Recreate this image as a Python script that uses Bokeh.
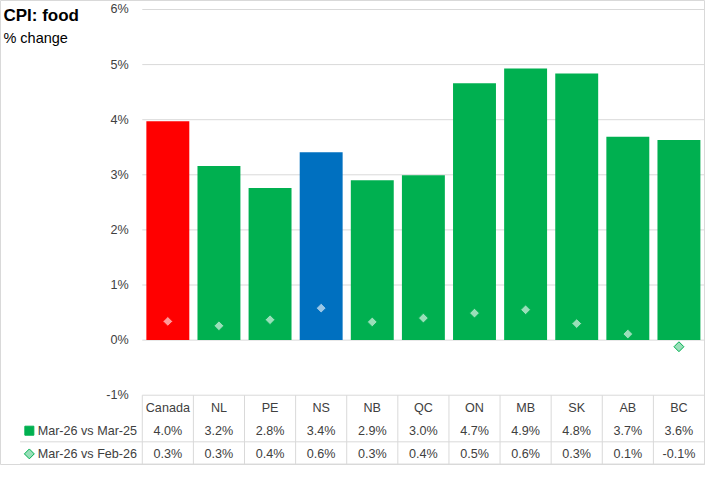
import math
from bokeh.plotting import figure
from bokeh.models import Range1d, ColumnDataSource
from bokeh.embed import file_html
from bokeh.resources import INLINE
from bokeh.core.properties import value

# ---------------- data ----------------
categories = ["Canada", "NL", "PE", "NS", "NB", "QC", "ON", "MB", "SK", "AB", "BC"]
yoy = [3.97, 3.16, 2.76, 3.41, 2.90, 2.99, 4.66, 4.93, 4.84, 3.69, 3.63]
mom = [0.34, 0.26, 0.37, 0.58, 0.33, 0.40, 0.49, 0.55, 0.30, 0.11, -0.12]
yoy_labels = ["4.0%", "3.2%", "2.8%", "3.4%", "2.9%", "3.0%", "4.7%", "4.9%", "4.8%", "3.7%", "3.6%"]
mom_labels = ["0.3%", "0.3%", "0.4%", "0.6%", "0.3%", "0.4%", "0.5%", "0.6%", "0.3%", "0.1%", "-0.1%"]
y_ticks = [-1, 0, 1, 2, 3, 4, 5, 6]
y_tick_labels = ["-1%", "0%", "1%", "2%", "3%", "4%", "5%", "6%"]
series_names = ["Mar-26 vs Mar-25", "Mar-26 vs Feb-26"]
title_text = "CPI: food"
subtitle_text = "% change"

# ---------------- styles / layout ----------------
GREEN = "#00B050"
RED = "#FF0000"
BLUE = "#0070C0"
GRID = "#d9d9d9"
TXT = "#404040"
FONT = "Liberation Sans"
FS = "12.6px"
highlight = {"Canada": RED, "NS": BLUE}

W, H = 705, 465
# reference-pixel -> data coordinate helpers (layout only)
REF_X0, REF_CW = 145.0, 52.27
REF_Y0, REF_U = 351.3, 57.0


def rx(px):
    return (px - (REF_X0 + REF_CW / 2)) / REF_CW


def ry(py):
    return (REF_Y0 - py) / REF_U


def blend_white(hex_color, t):
    h = hex_color.lstrip("#")
    r, g, b = (int(h[i:i + 2], 16) for i in (0, 2, 4))
    r, g, b = (round(c + (255 - c) * t) for c in (r, g, b))
    return "#%02x%02x%02x" % (r, g, b)


n = len(categories)
idx = list(range(n))
bar_colors = [highlight.get(c, GREEN) for c in categories]
marker_fill = [blend_white(c, 0.6) for c in bar_colors]

p = figure(width=W, height=H, output_backend="svg", toolbar_location=None,
           x_range=Range1d(rx(0), rx(721)), y_range=Range1d(ry(481), ry(0)),
           x_axis_location=None, y_axis_location=None,
           min_border=0, min_border_left=0, min_border_right=0,
           min_border_top=0, min_border_bottom=0)
p.xgrid.visible = False
p.ygrid.visible = False
p.outline_line_color = GRID
p.outline_line_width = 1
p.background_fill_color = "white"
p.border_fill_color = "white"

x_left = rx(REF_X0)
x_right = rx(721)

# gridlines
p.segment(x0=[x_left] * len(y_ticks), x1=[x_right] * len(y_ticks), y0=y_ticks, y1=y_ticks,
          line_color=GRID, line_width=1)

# y tick labels
p.text(x=[rx(131)] * len(y_ticks), y=y_ticks, text=y_tick_labels,
       text_font=value(FONT), text_font_size=value(FS), text_color=TXT,
       text_align="right", text_baseline="middle")

# bars
src = ColumnDataSource(dict(x=idx, top=yoy, color=bar_colors, mom=mom, mfill=marker_fill))
p.vbar(x="x", top="top", bottom=0, width=0.84, fill_color="color", line_color=None, source=src)

# markers (diamonds)
p.scatter(x="x", y="mom", marker="square", angle=math.pi / 4, size=7,
          fill_color="mfill", line_color="color", line_width=1, source=src)

# data table
row_cat = ry(422)
row_1 = ry(445)
row_2 = ry(469)
sep_y = ry(456.5)
bot_y = ry(479.5)
table_left = rx(20)

col_edges = [i - 0.5 for i in range(n + 1)]
p.segment(x0=col_edges, x1=col_edges, y0=[-1] * len(col_edges), y1=[bot_y] * len(col_edges),
          line_color=GRID, line_width=1)
p.segment(x0=[table_left, table_left], x1=[x_right, x_right], y0=[sep_y, bot_y], y1=[sep_y, bot_y],
          line_color=GRID, line_width=1)

p.text(x=idx, y=[row_cat] * n, text=categories, text_font=value(FONT),
       text_font_size=value(FS), text_color=TXT, text_align="center", text_baseline="middle")
p.text(x=idx, y=[row_1] * n, text=yoy_labels, text_font=value(FONT),
       text_font_size=value(FS), text_color=TXT, text_align="center", text_baseline="middle")
p.text(x=idx, y=[row_2] * n, text=mom_labels, text_font=value(FONT),
       text_font_size=value(FS), text_color=TXT, text_align="center", text_baseline="middle")

# legend keys in the table
p.scatter(x=[rx(29.5)], y=[row_1], marker="square", size=9, fill_color=GREEN, line_color=GREEN)
p.scatter(x=[rx(29.5)], y=[row_2], marker="square", angle=math.pi / 4, size=7,
          fill_color=blend_white(GREEN, 0.6), line_color=GREEN, line_width=1)
p.text(x=[rx(38), rx(38)], y=[row_1, row_2], text=series_names, text_font=value(FONT),
       text_font_size=value(FS), text_color=TXT, text_align="left", text_baseline="middle")

# title & subtitle
p.text(x=[rx(3)], y=[ry(16)], text=[title_text], text_font=value(FONT),
       text_font_size=value("17px"), text_font_style="bold", text_color="black",
       text_align="left", text_baseline="middle")
p.text(x=[rx(3)], y=[ry(39)], text=[subtitle_text], text_font=value(FONT),
       text_font_size=value("14.5px"), text_color="black",
       text_align="left", text_baseline="middle")

open("out.html", "w").write(file_html(p, INLINE))
